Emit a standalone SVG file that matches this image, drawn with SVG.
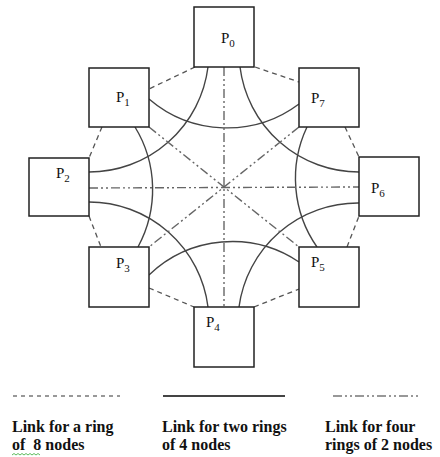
<svg xmlns="http://www.w3.org/2000/svg" width="440" height="457" viewBox="0 0 440 457">
<style>
.bg{fill:#fff}
.box{fill:#fff;stroke:#222;stroke-width:1.5}
.lbl{font-size:15px;fill:#111}
.sub{font-size:11px}
.ring8{fill:none;stroke:#555;stroke-width:1.3;stroke-dasharray:5,4}
.ring4{fill:none;stroke:#444;stroke-width:1.4}
.ring2{fill:none;stroke:#666;stroke-width:1.4;stroke-dasharray:9,3,2,3,2,3}
.leg{font-size:16px;font-weight:bold;fill:#111}
</style>
<rect class="bg" x="0" y="0" width="440" height="457"/>
<g id="connectors">
  <line class="ring8" x1="195" y1="67" x2="149" y2="89"/>
  <line class="ring8" x1="255" y1="67" x2="299" y2="82"/>
  <line class="ring8" x1="102" y1="127" x2="89" y2="158"/>
  <line class="ring8" x1="89" y1="216" x2="101" y2="247"/>
  <line class="ring8" x1="149" y1="288" x2="194" y2="307"/>
  <line class="ring8" x1="254" y1="307" x2="299" y2="289"/>
  <line class="ring8" x1="347" y1="247" x2="359" y2="216"/>
  <line class="ring8" x1="345" y1="127" x2="359" y2="157"/>
  <path class="ring4" d="M208,67 A120,120 0 0 1 89,172"/>
  <path class="ring4" d="M89,202 A120,120 0 0 1 208,307"/>
  <path class="ring4" d="M239,307 A120,120 0 0 1 359,203"/>
  <path class="ring4" d="M359,172 A120,120 0 0 1 240,67"/>
  <path class="ring4" d="M135,127 A120,120 0 0 1 138,247"/>
  <path class="ring4" d="M149,275 A120,120 0 0 1 299,262"/>
  <path class="ring4" d="M317,247 A120,120 0 0 1 307,127"/>
  <path class="ring4" d="M299,104 A120,120 0 0 1 149,99"/>
  <line class="ring2" x1="224" y1="67" x2="224" y2="307"/>
  <line class="ring2" x1="89" y1="188" x2="359" y2="187"/>
  <line class="ring2" x1="149" y1="127" x2="299" y2="247"/>
  <line class="ring2" x1="299" y1="127" x2="149" y2="247"/>
</g>
<g font-family="'Liberation Serif', 'Times New Roman', 'DejaVu Serif', serif">
<g id="P0"><rect class="box" x="194" y="7" width="60" height="60"/><text class="lbl" x="221" y="43">P<tspan class="sub" dy="4">0</tspan></text></g>
<g id="P1"><rect class="box" x="89" y="68" width="60" height="59"/><text class="lbl" x="116" y="102">P<tspan class="sub" dy="4">1</tspan></text></g>
<g id="P7"><rect class="box" x="299" y="68" width="60" height="59"/><text class="lbl" x="311" y="103">P<tspan class="sub" dy="4">7</tspan></text></g>
<g id="P2"><rect class="box" x="29" y="158" width="60" height="58"/><text class="lbl" x="56" y="178">P<tspan class="sub" dy="4">2</tspan></text></g>
<g id="P6"><rect class="box" x="359" y="157" width="60" height="59"/><text class="lbl" x="371" y="193">P<tspan class="sub" dy="4">6</tspan></text></g>
<g id="P3"><rect class="box" x="89" y="247" width="60" height="60"/><text class="lbl" x="116" y="268">P<tspan class="sub" dy="4">3</tspan></text></g>
<g id="P5"><rect class="box" x="299" y="247" width="60" height="60"/><text class="lbl" x="311" y="267">P<tspan class="sub" dy="4">5</tspan></text></g>
<g id="P4"><rect class="box" x="194" y="307" width="60" height="60"/><text class="lbl" x="206" y="327">P<tspan class="sub" dy="4">4</tspan></text></g>
<g id="legend">
  <line x1="13" y1="396" x2="120" y2="396" stroke="#777" stroke-width="1.3" stroke-dasharray="4,4"/>
  <line x1="163" y1="396" x2="285" y2="396" stroke="#444" stroke-width="2"/>
  <line x1="333" y1="396" x2="418" y2="396" stroke="#777" stroke-width="1.6" stroke-dasharray="9,3,2,3,2,3"/>
  <text class="leg" x="12" y="432">Link for a ring</text>
  <text class="leg" x="12" y="450" xml:space="preserve">of  8 nodes</text>
  <text class="leg" x="162" y="432">Link for two rings</text>
  <text class="leg" x="162" y="450">of 4 nodes</text>
  <text class="leg" x="325" y="432">Link for four</text>
  <text class="leg" x="325" y="450">rings of 2 nodes</text>
  <path d="M12,455 l2,-1.5 l2,1.5 l2,-1.5 l2,1.5 l2,-1.5 l2,1.5 l2,-1.5 l2,1.5 l2,-1.5 l2,1.5 l2,-1.5 l2,1.5 l2,-1.5 l2,1.5" fill="none" stroke="#3a3" stroke-width="0.8"/>
</g>
</g>
</svg>
